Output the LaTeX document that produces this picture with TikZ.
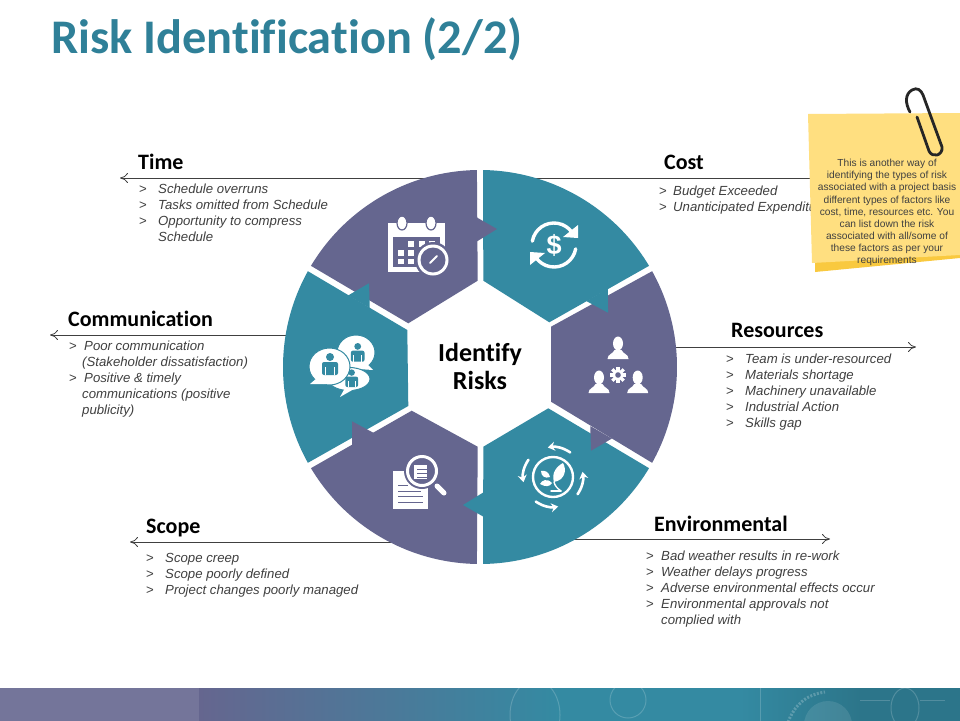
\documentclass[tikz,border=0pt]{standalone}
\usepackage{fontspec}
\usetikzlibrary{arrows.meta}
\setmainfont{Liberation Sans}
\newfontfamily\headfont[Ligatures=NoCommon]{Carlito}
\definecolor{wheelpurple}{HTML}{65668F}
\definecolor{wheelteal}{HTML}{348AA2}
\definecolor{titleteal}{HTML}{2F8098}
\definecolor{notefront}{HTML}{FFDF80}
\definecolor{noteback}{HTML}{F9C93F}
\definecolor{textgray}{HTML}{404040}
\tikzset{
	leader/.style={draw=textgray,line width=0.8pt,-{To[length=8pt,width=10pt,open]}},
	heading/.style={anchor=base west,inner sep=0pt,font=\headfont\bfseries\fontsize{22}{24}\selectfont},
	risklist/.style={anchor=north west,inner sep=0pt,align=left,text=textgray,font=\itshape\fontsize{13.2}{16}\selectfont},
	iconline/.style={white,line cap=round},
	bubble/.style={fill=white,draw=wheelteal,line width=1pt},
}
% one list line, the optional value is the indent after the mark
\newcommand{\rk}[2][19pt]{\makebox[#1][l]{\normalfont>}#2}
\newcommand{\rkgo}[2][19pt]{\hspace*{#1}#2}
% one wheel segment: colour, turn, then its two inner corners
\newcommand{\segment}[4]{\fill[#1] ({90.9+#2}:197) arc[start angle={90.9+#2},end angle={149.1+#2},radius=197] -- (#3) -- (#4) -- cycle;}
\newcommand{\pointer}[2]{\fill[#1,rotate=#2] (-4,150) -- (17,138) -- (-4,125) -- cycle;}
% person standing on #1
\newcommand{\person}[1]{
	\begin{scope}[shift={(#1)},y=1pt]
		\fill[white] (0,15.5) ellipse [x radius=5,y radius=7];
		\fill[white] (-10.5,0) -- (10.5,0) .. controls (10.5,5) and (5,5) .. (3.5,9) -- (-3.5,9) .. controls (-5,5) and (-10.5,5) .. (-10.5,0) -- cycle;
	\end{scope}
}
% person in a bubble, standing on #1, scale #2
\newcommand{\talker}[2]{
	\begin{scope}[shift={(#1)},y=1pt,scale=#2]
		\fill[wheelteal] (0,18) circle (4pt);
		\fill[wheelteal,rounded corners=2pt] (-8,0) rectangle (8,13);
		\draw[white,line width=0.8pt] (-4.5,0) -- (-4.5,8);
		\draw[white,line width=0.8pt] (4.5,0) -- (4.5,8);
	\end{scope}
}
\begin{document}
\begin{tikzpicture}[x=1pt,y=-1pt]
	\useasboundingbox (0,0) rectangle (960,720);
	\fill[white] (0,0) rectangle (960,720);

	% bottom band
	\shade[left color=wheelpurple,right color=wheelteal] (199,688) rectangle (560,722);
	\fill[wheelteal!85!black] (560,688) rectangle (960,722);
	\fill[wheelteal] (560,688) rectangle (740,722);
	\shade[left color=wheelteal,right color=wheelteal!85!black] (740,688) rectangle (860,722);
	\fill[wheelpurple!90!white] (0,688) rectangle (199,722);
	\begin{scope}
		\clip (199,688) rectangle (960,722);
		\draw[white,opacity=0.18,line width=1pt] (535,715) ellipse [x radius=25pt,y radius=35pt];
		\draw[white,opacity=0.18,line width=1pt] (628,700) circle (18pt);
		\draw[white,opacity=0.18,line width=1pt] (905,708) ellipse [x radius=14pt,y radius=20pt];
		\draw[white,opacity=0.18,line width=1pt] (760,688) -- (760,722);
		\draw[white,opacity=0.18,line width=1pt] (860,700) -- (890,700);
		\draw[white,opacity=0.18,line width=1pt] (920,700) -- (945,700);
		\draw[white,opacity=0.22,line width=3pt,dash pattern=on 2pt off 1.5pt] (788,722) .. controls (795,705) and (805,695) .. (825,692);
		\fill[white,opacity=0.10] (828,725) circle (24pt);
	\end{scope}

	\node[anchor=base west,inner sep=0pt,text=titleteal] (title) at (51,53) {\headfont\bfseries\fontsize{48.3}{50}\selectfont Risk Identification (2/2)};

	% leaders run under the wheel
	\coordinate (timestart) at (430,178);
	\coordinate (timeend) at (120,178);
	\coordinate (coststart) at (530,178);
	\coordinate (costend) at (830,178);
	\coordinate (commstart) at (300,335);
	\coordinate (commend) at (50,335);
	\coordinate (resstart) at (660,347);
	\coordinate (resend) at (916,347);
	\coordinate (scopestart) at (400,542);
	\coordinate (scopeend) at (130,542);
	\coordinate (envstart) at (560,539);
	\coordinate (envend) at (830,539);
	\draw[leader] (timestart) -- (timeend);
	\draw[leader] (coststart) -- (costend);
	\draw[leader] (commstart) -- (commend);
	\draw[leader] (resstart) -- (resend);
	\draw[leader] (scopestart) -- (scopeend);
	\draw[leader] (envstart) -- (envend);

	\begin{scope}[shift={(480,367)},y=1pt]
		\segment{wheelpurple}{0}{-71.7,43.7}{-2.3,86.3}
		\segment{wheelteal}{-60}{3.3,86.3}{69.3,44.7}
		\segment{wheelpurple}{-120}{71,40.3}{71,-34.7}
		\segment{wheelteal}{-180}{68.3,-41.3}{3.3,-79.7}
		\segment{wheelpurple}{-240}{-2.3,-79.7}{-68.3,-43.7}
		\segment{wheelteal}{-300}{-71.7,-39}{-72.7,37}
		\pointer{wheelpurple}{0}
		\pointer{wheelteal}{-60}
		\pointer{wheelpurple}{-120}
		\pointer{wheelteal}{-180}
		\pointer{wheelpurple}{-240}
		\pointer{wheelteal}{-300}
	\end{scope}
	\node[align=center,inner sep=0pt,font=\headfont\bfseries\fontsize{26}{28}\selectfont] (hub) at (480,366) {Identify\\Risks};

	% calendar
	\fill[white] (388,223) rectangle (445,272);
	\fill[wheelpurple] (393,237) rectangle (440,267);
	\filldraw[fill=white,draw=wheelpurple,line width=1.2pt] (402,223) ellipse [x radius=5pt,y radius=7pt];
	\filldraw[fill=white,draw=wheelpurple,line width=1.2pt] (431,223) ellipse [x radius=5pt,y radius=7pt];
	\fill[white] (408,241) rectangle (414,247);
	\fill[white] (419,241) rectangle (425,247);
	\fill[white] (429,241) rectangle (435,247);
	\fill[white] (398,250) rectangle (404,256);
	\fill[white] (408,250) rectangle (414,256);
	\fill[white] (419,250) rectangle (425,256);
	\fill[white] (398,259) rectangle (404,264);
	\fill[white] (408,259) rectangle (414,264);
	\fill[wheelpurple] (433,260) circle (18pt);
	\fill[white] (433,260) circle (15.5pt);
	\fill[wheelpurple] (433,260) circle (12.5pt);
	\draw[iconline,line width=2pt] (430,263) -- (437,256);

	% dollar in two turning arrows
	\begin{scope}[shift={(554,245)},y=1pt]
		\draw[iconline,line width=3.4pt] (170:22) arc[start angle=170,end angle=35,radius=22];
		\fill[white] (24,20) -- (24,7) -- (9,8) -- cycle;
		\draw[iconline,line width=3.4pt] (-10:22) arc[start angle=-10,end angle=-145,radius=22];
		\fill[white] (-24,-20) -- (-24,-7) -- (-9,-8) -- cycle;
		\node[text=white,inner sep=0pt,font=\bfseries\fontsize{27}{27}\selectfont] (dollar) at (0,0) {\$};
	\end{scope}

	% three people and a gear
	\person{618,359}
	\person{599,393}
	\person{637.7,393}
	\fill[white] (618,375) circle (5.5pt);
	\foreach \a in {0,45,...,315}
		\fill[white,rotate around={\a:(618,375)}] (616.4,367) rectangle (619.6,372);
	\fill[wheelpurple] (618,375) circle (2.8pt);

	% plant in four arrows
	\begin{scope}[shift={(553,477)},y=1pt]
		\draw[white,line width=2.4pt] (0,0) circle (20pt);
		\draw[iconline,line width=2.6pt,-{Stealth[length=7pt,width=9pt]}] (55:30) arc[start angle=55,end angle=100,radius=30];
		\draw[iconline,line width=2.6pt,-{Stealth[length=7pt,width=9pt]}] (145:30) arc[start angle=145,end angle=190,radius=30];
		\draw[iconline,line width=2.6pt,-{Stealth[length=7pt,width=9pt]}] (235:30) arc[start angle=235,end angle=280,radius=30];
		\draw[iconline,line width=2.6pt,-{Stealth[length=7pt,width=9pt]}] (325:30) arc[start angle=325,end angle=370,radius=30];
		\fill[white] (1,-5) .. controls (-2,4) and (4,11) .. (10,14) .. controls (14,7) and (12,-3) .. (1,-5) -- cycle;
		\fill[white] (-1,-6) .. controls (-6,-1) and (-11,-3) .. (-13,-7) .. controls (-8,-10) and (-3,-10) .. (-1,-6) -- cycle;
		\fill[white] (-3,0) .. controls (-4,5) and (-8,7) .. (-12,6) .. controls (-12,1) and (-8,-2) .. (-3,0) -- cycle;
		\draw[iconline,line width=1.4pt] (8,-14) .. controls (4,-11) and (2,-9) .. (1,-5);
		\draw[iconline,line width=1.4pt] (8,-14) -- (-2,-14);
	\end{scope}

	% page under a lens
	\fill[white] (392.7,470.7) rectangle (427.7,509);
	\draw[wheelpurple,line width=1pt] (398,485) -- (408,485);
	\draw[wheelpurple,line width=1pt] (398,491) -- (421,491);
	\draw[wheelpurple,line width=1pt] (398,496) -- (423,496);
	\draw[wheelpurple,line width=1pt] (398,502) -- (423,502);
	\fill[wheelpurple] (422,471) circle (18pt);
	\draw[white,line width=3pt] (422,471) circle (14.5pt);
	\fill[white] (414,465) rectangle (427,479);
	\draw[wheelpurple,line width=1pt] (417,469) -- (427,469);
	\draw[wheelpurple,line width=1pt] (417,473) -- (427,473);
	\draw[wheelpurple,line width=1pt] (417,477) -- (427,477);
	\draw[iconline,line width=5pt] (437,486) -- (444,493);

	% three speech bubbles
	\filldraw[bubble] (356,352.5) ellipse [x radius=19pt,y radius=17.5pt];
	\fill[white] (365,362) -- (373,370) -- (358,369) -- cycle;
	\filldraw[bubble] (349,379) ellipse [x radius=21pt,y radius=11.5pt];
	\fill[white] (345,388) -- (340,397) -- (354,389) -- cycle;
	\filldraw[bubble] (329.5,366.5) ellipse [x radius=20.5pt,y radius=18.5pt];
	\fill[white] (317,378) -- (310,384) -- (326,384) -- cycle;
	\talker{357.7,361.7}{0.85}
	\talker{351.7,387}{0.8}
	\talker{330,375}{1}

	\node[heading] (timehead) at (138,169) {Time};
	\node[heading] (costhead) at (664,169) {Cost};
	\node[heading] (commhead) at (68,326) {Communication};
	\node[heading] (reshead) at (731,337) {Resources};
	\node[heading] (scopehead) at (146,533) {Scope};
	\node[heading] (envhead) at (654,531) {Environmental};

	\node[risklist] (timelist) at (139,184) {\rk{Schedule overruns}\\\rk{Tasks omitted from Schedule}\\\rk{Opportunity to compress}\\\rkgo{Schedule}};
	\node[risklist] (costlist) at (659,186) {\rk[14pt]{Budget Exceeded}\\\rk[14pt]{Unanticipated Expenditure}};
	\node[risklist] (commlist) at (69,341) {\rk[15pt]{Poor communication}\\\rkgo[13pt]{(Stakeholder dissatisfaction)}\\\rk[15pt]{Positive \& timely}\\\rkgo[13pt]{communications (positive}\\\rkgo[13pt]{publicity)}};
	\node[risklist] (reslist) at (726,354) {\rk{Team is under-resourced}\\\rk{Materials shortage}\\\rk{Machinery unavailable}\\\rk{Industrial Action}\\\rk{Skills gap}};
	\node[risklist] (scopelist) at (146,553) {\rk{Scope creep}\\\rk{Scope poorly defined}\\\rk{Project changes poorly managed}};
	\node[risklist] (envlist) at (646,551) {\rk[15pt]{Bad weather results in re-work}\\\rk[15pt]{Weather delays progress}\\\rk[15pt]{Adverse environmental effects occur}\\\rk[15pt]{Environmental approvals not}\\\rkgo[15pt]{complied with}};

	% note and clip
	\fill[noteback] (815,150) -- (960,150) -- (960,258) -- (815,272) -- cycle;
	\fill[notefront] (808,114) -- (960,113) -- (960,255) -- (812,263) -- cycle;
	\draw[black!85,line width=2.8pt,line cap=round] (910,112) .. controls (905,103) and (905,94) .. (912,90) .. controls (917,87) and (921,90) .. (923,95) -- (942,147) .. controls (943,156) and (932,158) .. (929,151) -- (917,117);
	\node[align=center,inner sep=0pt,text=textgray,font=\fontsize{10.2}{12.1}\selectfont] (notetext) at (887,212.5) {This is another way of\\identifying the types of risk\\associated with a project basis\\different types of factors like\\cost, time, resources etc. You\\can list down the risk\\associated with all/some of\\these factors as per your\\requirements};
\end{tikzpicture}
\end{document}
